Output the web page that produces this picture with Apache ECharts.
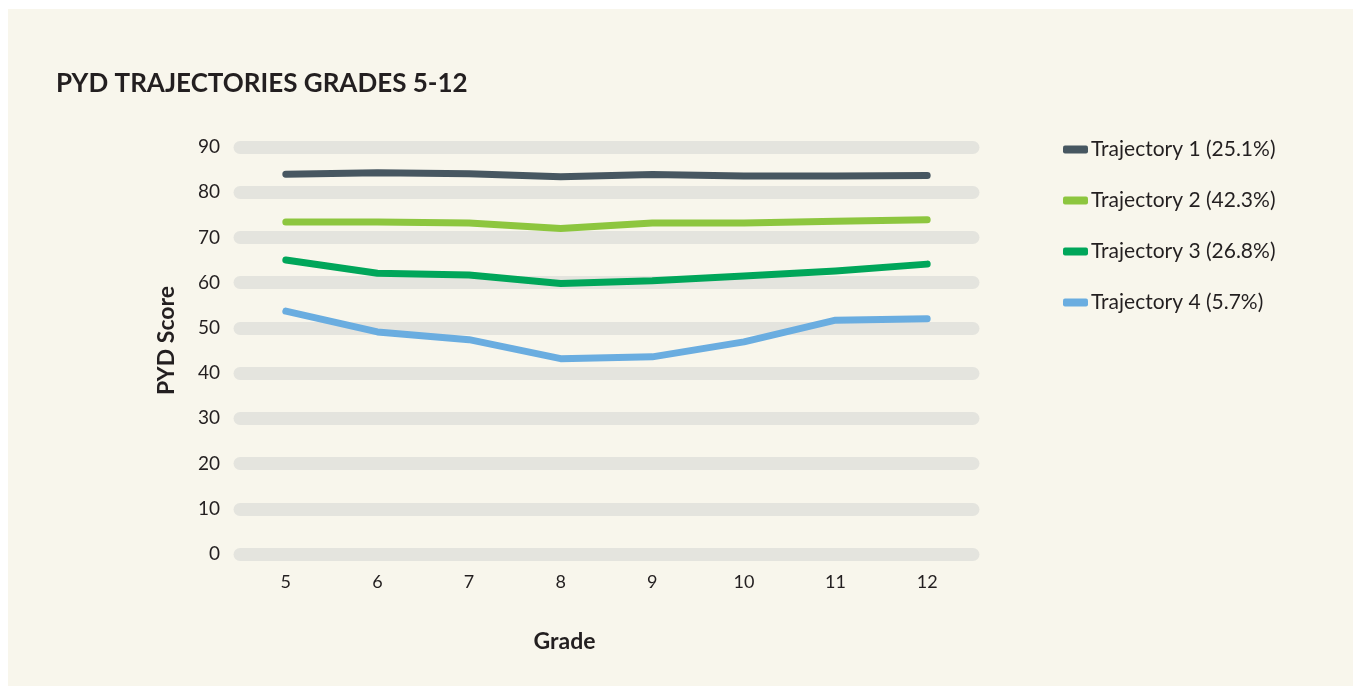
<!DOCTYPE html>
<html>
<head>
<meta charset="utf-8">
<script src="https://cdn.jsdelivr.net/npm/echarts@6/dist/echarts.min.js"></script>
<style>
html,body{margin:0;padding:0;background:#ffffff;}
#chart{width:1353px;height:686px;}
</style>
</head>
<body>
<div id="chart"></div>
<script>
const grades = ['5','6','7','8','9','10','11','12'];
const yTicks = [0,10,20,30,40,50,60,70,80,90];
const seriesNames = ['Trajectory 1 (25.1%)','Trajectory 2 (42.3%)','Trajectory 3 (26.8%)','Trajectory 4 (5.7%)'];
const traj1 = [84.0, 84.3, 84.1, 83.4, 83.9, 83.6, 83.6, 83.7];
const traj2 = [73.4, 73.4, 73.2, 72.0, 73.2, 73.2, 73.6, 73.9];
const traj3 = [65.0, 62.1, 61.7, 59.8, 60.4, 61.5, 62.6, 64.1];
const traj4 = [53.7, 49.1, 47.4, 43.2, 43.6, 46.9, 51.7, 52.0];
const colors = ['#475761','#8DC63F','#00A65A','#6AADE0'];

const FONT = 'Lato, "Open Sans", sans-serif';
const TXT = '#231F20';
const chart = echarts.init(document.getElementById('chart'));
const data = [traj1, traj2, traj3, traj4];

chart.setOption({
  backgroundColor: '#ffffff',
  animation: false,
  graphic: [{
    type: 'rect', left: 8, top: 9, z: -10,
    shape: { width: 1345, height: 677 },
    style: { fill: '#F8F6EC' }
  }],
  title: {
    text: 'PYD TRAJECTORIES GRADES 5-12',
    left: 51, top: 66,
    textStyle: { fontFamily: FONT, fontWeight: 'bold', fontSize: 26, color: TXT }
  },
  legend: {
    orient: 'vertical',
    left: 1058, top: 134,
    itemGap: 30,
    itemWidth: 25, itemHeight: 8,
    icon: 'roundRect',
    textStyle: { fontFamily: FONT, fontSize: 21, color: TXT, padding: [0,0,0,-2] },
    data: seriesNames
  },
  grid: { left: 240, right: 380, top: 147, bottom: 132, containLabel: false },
  xAxis: {
    type: 'category',
    data: grades,
    boundaryGap: true,
    name: 'Grade',
    nameLocation: 'middle',
    nameGap: 76,
    nameTextStyle: { fontFamily: FONT, fontWeight: 'bold', fontSize: 23, color: TXT, padding: [0, 84, 0, 0] },
    axisLine: { show: false },
    axisTick: { show: false },
    axisLabel: { fontFamily: FONT, fontSize: 18, color: TXT, margin: 19 }
  },
  yAxis: {
    type: 'value',
    min: 0, max: 90, interval: 10,
    name: 'PYD Score',
    nameLocation: 'middle',
    nameGap: 62,
    nameRotate: 90,
    nameTextStyle: { fontFamily: FONT, fontWeight: 'bold', fontSize: 23, color: TXT, padding: [0, 0, 0, 20] },
    axisLine: { show: false },
    axisTick: { show: false },
    axisLabel: {
      fontFamily: FONT, fontSize: 19, color: TXT, margin: 20,
      formatter: v => yTicks.includes(v) ? String(v) : ''
    },
    splitLine: { show: true, lineStyle: { color: '#E4E4DE', width: 13, cap: 'round' } }
  },
  series: data.map((d, i) => ({
    name: seriesNames[i],
    type: 'line',
    data: d,
    symbol: 'none',
    itemStyle: { color: colors[i] },
    lineStyle: { color: colors[i], width: 7, cap: 'round', join: 'round' }
  }))
});
</script>
</body>
</html>
